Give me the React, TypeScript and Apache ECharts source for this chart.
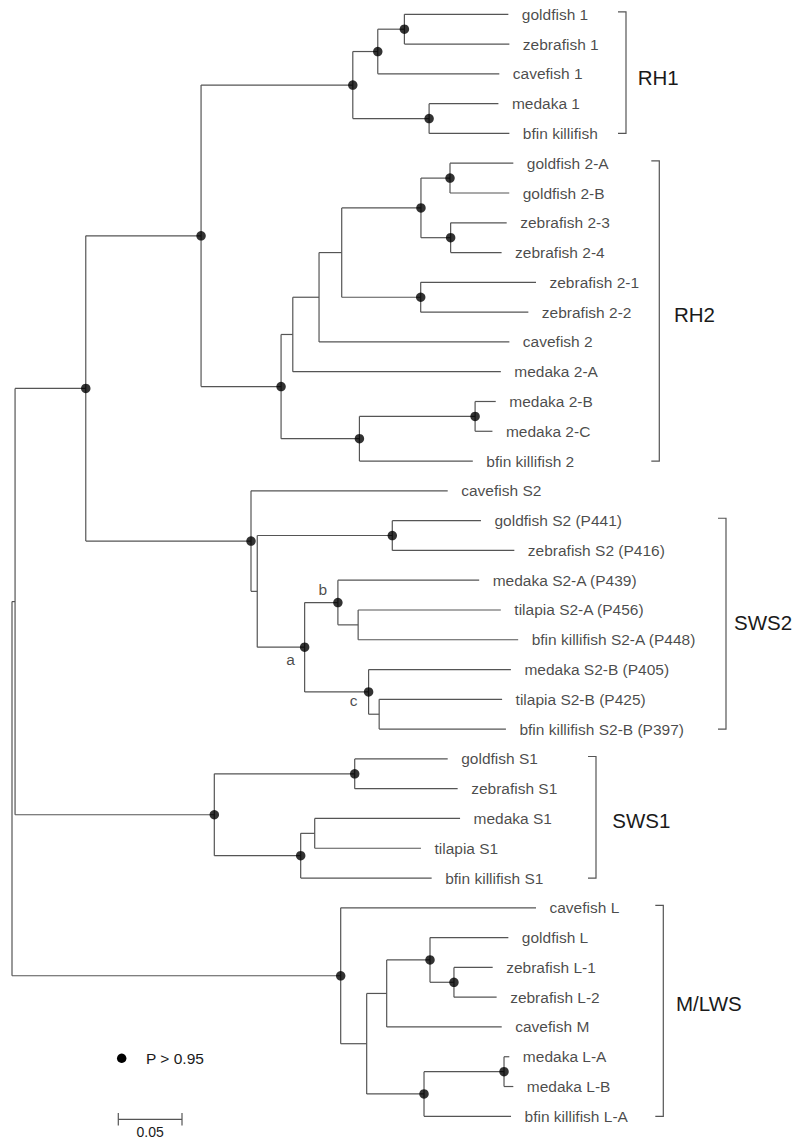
import React, { useEffect, useRef } from "react";
import * as echarts from "echarts";

// ---------- DATA ----------
const leafNames = [
  "goldfish 1", "zebrafish 1", "cavefish 1", "medaka 1", "bfin killifish",
  "goldfish 2-A", "goldfish 2-B", "zebrafish 2-3", "zebrafish 2-4", "zebrafish 2-1",
  "zebrafish 2-2", "cavefish 2", "medaka 2-A", "medaka 2-B", "medaka 2-C",
  "bfin killifish 2", "cavefish S2", "goldfish S2 (P441)", "zebrafish S2 (P416)",
  "medaka S2-A (P439)", "tilapia S2-A (P456)", "bfin killifish S2-A (P448)",
  "medaka S2-B (P405)", "tilapia S2-B (P425)", "bfin killifish S2-B (P397)",
  "goldfish S1", "zebrafish S1", "medaka S1", "tilapia S1", "bfin killifish S1",
  "cavefish L", "goldfish L", "zebrafish L-1", "zebrafish L-2", "cavefish M",
  "medaka L-A", "medaka L-B", "bfin killifish L-A",
];
const leafParents = [
  "rh1b", "rh1b", "rh1a", "rh1c", "rh1c", "rh2e", "rh2e", "rh2f", "rh2f", "rh2g",
  "rh2g", "rh2b", "rh2a", "rh2i", "rh2i", "rh2h", "sws2", "s2b", "s2b", "nb",
  "nb2", "nb2", "nc", "nc2", "nc2", "s1a", "s1a", "s1c", "s1c", "s1b",
  "mlws", "mc", "md", "md", "mb", "mf", "mf", "me",
];
const leafBranches = [
  0.0816, 0.0824, 0.0954, 0.0544, 0.063, 0.0497, 0.0465, 0.044, 0.04, 0.0905,
  0.0845, 0.1494, 0.1633, 0.0162, 0.0136, 0.089, 0.1544, 0.0696, 0.0958, 0.1109,
  0.112, 0.1256, 0.1117, 0.0965, 0.0995, 0.073, 0.0808, 0.1141, 0.0834, 0.1028,
  0.1533, 0.0615, 0.0304, 0.0335, 0.0903, 0.0042, 0.0073, 0.0683,
];

const nodeIds = [
  "root", "n1", "a", "mlws", "rh", "sws2", "sws1", "rh1", "rh2", "rh1a",
  "rh1b", "rh1c", "rh2a", "rh2h", "rh2b", "rh2c", "rh2d", "rh2g", "rh2e", "rh2f",
  "rh2i", "s2a", "s2b", "na", "nb", "nc", "nb2", "nc2", "s1a", "s1b",
  "s1c", "ma", "mb", "me", "mc", "md", "mf",
];
const nodeParents = [
  "", "root", "n1", "root", "a", "a", "n1", "rh", "rh", "rh1",
  "rh1a", "rh1", "rh2", "rh2", "rh2a", "rh2b", "rh2c", "rh2c", "rh2d", "rh2d",
  "rh2h", "sws2", "s2a", "s2a", "na", "na", "nb", "nc", "sws1", "sws1",
  "s1b", "mlws", "ma", "ma", "mb", "mc", "me",
];
const nodeBranches = [
  0, 0.0024, 0.0555, 0.258, 0.0905, 0.1297, 0.1564, 0.1191, 0.0628, 0.0196,
  0.0209, 0.0599, 0.0092, 0.0615, 0.0206, 0.0178, 0.0622, 0.062, 0.0228, 0.0233,
  0.0908, 0.0049, 0.106, 0.0372, 0.0261, 0.0502, 0.0159, 0.0083, 0.1102, 0.0678,
  0.011, 0.0204, 0.0157, 0.045, 0.034, 0.0188, 0.0628,
];
const supportedNodes = [
  "a", "rh", "rh1", "rh1a", "rh1b", "rh1c", "rh2", "rh2d", "rh2e", "rh2f",
  "rh2g", "rh2h", "rh2i", "sws2", "s2b", "na", "nb", "nc", "sws1", "s1a",
  "s1b", "mlws", "mc", "md", "me", "mf",
];
const letterNodes = ["na", "nb", "nc"];
const letterTexts = ["a", "b", "c"];

const cladeNames = ["RH1", "RH2", "SWS2", "SWS1", "M/LWS"];
const cladeFirstLeaf = [0, 5, 17, 25, 30];
const cladeLastLeaf = [4, 15, 24, 29, 37];

const scaleBarLength = 0.05;
const scaleBarLabel = "0.05";
const legendLabel = "P > 0.95";

// ---------- LAYOUT / STYLE ----------
const W = 800;
const H = 1147;
const GRID_LEFT = 12;
const PX_PER_UNIT = 1274;
const LEAF_Y0 = 14.3;
const LEAF_STEP = 29.784;
const FONT = "'Liberation Sans', Arial, Helvetica, sans-serif";
const LINE_COLOR = "#555";
const TEXT_COLOR = "#1a1a1a";
const cladeBracketX = [626, 659.3, 726, 596, 663.3];
const cladeLabelX = [637.7, 674, 734, 612.3, 676];
const cladeLabelY = [77.3, 314.3, 622.7, 820, 1003.3];
const letterOffsets = [[-14, 12], [-15, -13], [-15, 9]];
const scaleBarStartPx = 118.3;
const scaleBarYPx = 1119.3;

const pxToX = (px: number) => (px - GRID_LEFT) / PX_PER_UNIT;
const pxToY = (py: number) => (py - LEAF_Y0) / LEAF_STEP;

function buildTree() {
  const parentOf: Record<string, string> = {};
  const branchOf: Record<string, number> = {};
  const children: Record<string, string[]> = {};
  nodeIds.forEach((id, i) => {
    parentOf[id] = nodeParents[i];
    branchOf[id] = nodeBranches[i];
    children[id] = [];
  });
  const leafKey = (i: number) => "leaf:" + i;
  leafNames.forEach((_, i) => {
    const k = leafKey(i);
    parentOf[k] = leafParents[i];
    branchOf[k] = leafBranches[i];
  });
  nodeIds.forEach((id) => {
    const p = parentOf[id];
    if (p) children[p].push(id);
  });
  leafNames.forEach((_, i) => children[leafParents[i]].push(leafKey(i)));

  const depthCache: Record<string, number> = {};
  const depth = (id: string): number => {
    if (id in depthCache) return depthCache[id];
    const p = parentOf[id];
    const d = (p ? depth(p) : 0) + branchOf[id];
    depthCache[id] = d;
    return d;
  };
  const yCache: Record<string, number> = {};
  const yOf = (id: string): number => {
    if (id in yCache) return yCache[id];
    if (id.startsWith("leaf:")) {
      yCache[id] = Number(id.slice(5));
      return yCache[id];
    }
    const ys = children[id].map(yOf);
    const v = (Math.min(...ys) + Math.max(...ys)) / 2;
    yCache[id] = v;
    return v;
  };
  const all = [...nodeIds, ...leafNames.map((_, i) => leafKey(i))];
  const segs: number[][][] = [];
  all.forEach((id) => {
    const p = parentOf[id];
    const y = yOf(id);
    const x = depth(id);
    if (p) segs.push([[depth(p), y], [x, y]]);
    if (children[id] && children[id].length) {
      const ys = children[id].map(yOf);
      segs.push([[x, Math.min(...ys)], [x, Math.max(...ys)]]);
    }
  });
  return { depth, yOf, segs, leafKey };
}

export default function App() {
  const ref = useRef<HTMLDivElement>(null);
  useEffect(() => {
    document.body.style.margin = "0";
    if (!ref.current) return;
    const chart = echarts.init(ref.current, undefined, { renderer: "svg" });
    const { depth, yOf, segs, leafKey } = buildTree();

    const xMax = (W - GRID_LEFT) / PX_PER_UNIT;
    const yMin = -LEAF_Y0 / LEAF_STEP;
    const yMax = (H - LEAF_Y0) / LEAF_STEP;

    const bracketLines = cladeNames.map((_, i) => {
      const bx = pxToX(cladeBracketX[i]);
      const tx = pxToX(cladeBracketX[i] - 8);
      const top = cladeFirstLeaf[i] - 0.08;
      const bot = cladeLastLeaf[i];
      return { coords: [[tx, top], [bx, top], [bx, bot], [tx, bot]] };
    });

    const sbX0 = pxToX(scaleBarStartPx);
    const sbX1 = sbX0 + scaleBarLength;
    const sbY = pxToY(scaleBarYPx);
    const tick = 6.3 / LEAF_STEP;
    const scaleLines = [
      { coords: [[sbX0, sbY], [sbX1, sbY]] },
      { coords: [[sbX0, sbY - tick], [sbX0, sbY + tick]] },
      { coords: [[sbX1, sbY - tick], [sbX1, sbY + tick]] },
    ];

    const option: any = {
      animation: false,
      backgroundColor: "#ffffff",
      grid: { left: GRID_LEFT, top: 0, width: W - GRID_LEFT, height: H },
      xAxis: { type: "value", min: 0, max: xMax, show: false },
      yAxis: { type: "value", min: yMin, max: yMax, inverse: true, show: false },
      series: [
        {
          type: "lines",
          coordinateSystem: "cartesian2d",
          polyline: true,
          silent: true,
          lineStyle: { color: LINE_COLOR, width: 1.2, opacity: 1 },
          data: segs.map((c) => ({ coords: c })),
        },
        {
          type: "lines",
          coordinateSystem: "cartesian2d",
          polyline: true,
          silent: true,
          lineStyle: { color: LINE_COLOR, width: 1.2, opacity: 1 },
          data: [...bracketLines, ...scaleLines],
        },
        {
          type: "scatter",
          symbolSize: 1,
          silent: true,
          itemStyle: { color: "rgba(0,0,0,0)" },
          label: {
            show: true,
            position: "right",
            distance: 13,
            formatter: (p: any) => p.name,
            fontSize: 15.5,
            fontFamily: FONT,
            color: TEXT_COLOR,
          },
          data: leafNames.map((n, i) => ({
            name: n,
            value: [depth(leafKey(i)), yOf(leafKey(i))],
          })),
        },
        {
          type: "scatter",
          symbol: "circle",
          symbolSize: 9.5,
          silent: true,
          itemStyle: { color: "#000" },
          data: supportedNodes.map((id) => [depth(id), yOf(id)]),
        },
        {
          type: "scatter",
          symbolSize: 1,
          silent: true,
          itemStyle: { color: "rgba(0,0,0,0)" },
          data: letterNodes.map((id, i) => ({
            name: letterTexts[i],
            value: [depth(id), yOf(id)],
            label: {
              show: true,
              position: "inside",
              offset: letterOffsets[i],
              formatter: (p: any) => p.name,
              fontSize: 15.5,
              fontFamily: FONT,
              color: TEXT_COLOR,
            },
          })),
        },
      ],
      graphic: [
        ...cladeNames.map((n, i) => ({
          type: "text",
          x: cladeLabelX[i],
          y: cladeLabelY[i],
          style: {
            text: n,
            fontSize: 20.5,
            fontFamily: FONT,
            fill: TEXT_COLOR,
            verticalAlign: "middle",
            align: "left",
          },
        })),
        {
          type: "circle",
          shape: { cx: 121.7, cy: 1058.3, r: 4.7 },
          style: { fill: "#000" },
        },
        {
          type: "text",
          x: 146,
          y: 1058.3,
          style: {
            text: legendLabel,
            fontSize: 15.5,
            fontFamily: FONT,
            fill: TEXT_COLOR,
            verticalAlign: "middle",
            align: "left",
          },
        },
        {
          type: "text",
          x: GRID_LEFT + (sbX0 + scaleBarLength / 2) * PX_PER_UNIT,
          y: 1132.3,
          style: {
            text: scaleBarLabel,
            fontSize: 14,
            fontFamily: FONT,
            fill: TEXT_COLOR,
            verticalAlign: "middle",
            align: "center",
          },
        },
      ],
    };
    chart.setOption(option);
    return () => chart.dispose();
  }, []);
  return <div ref={ref} style={{ width: W, height: H }} />;
}
